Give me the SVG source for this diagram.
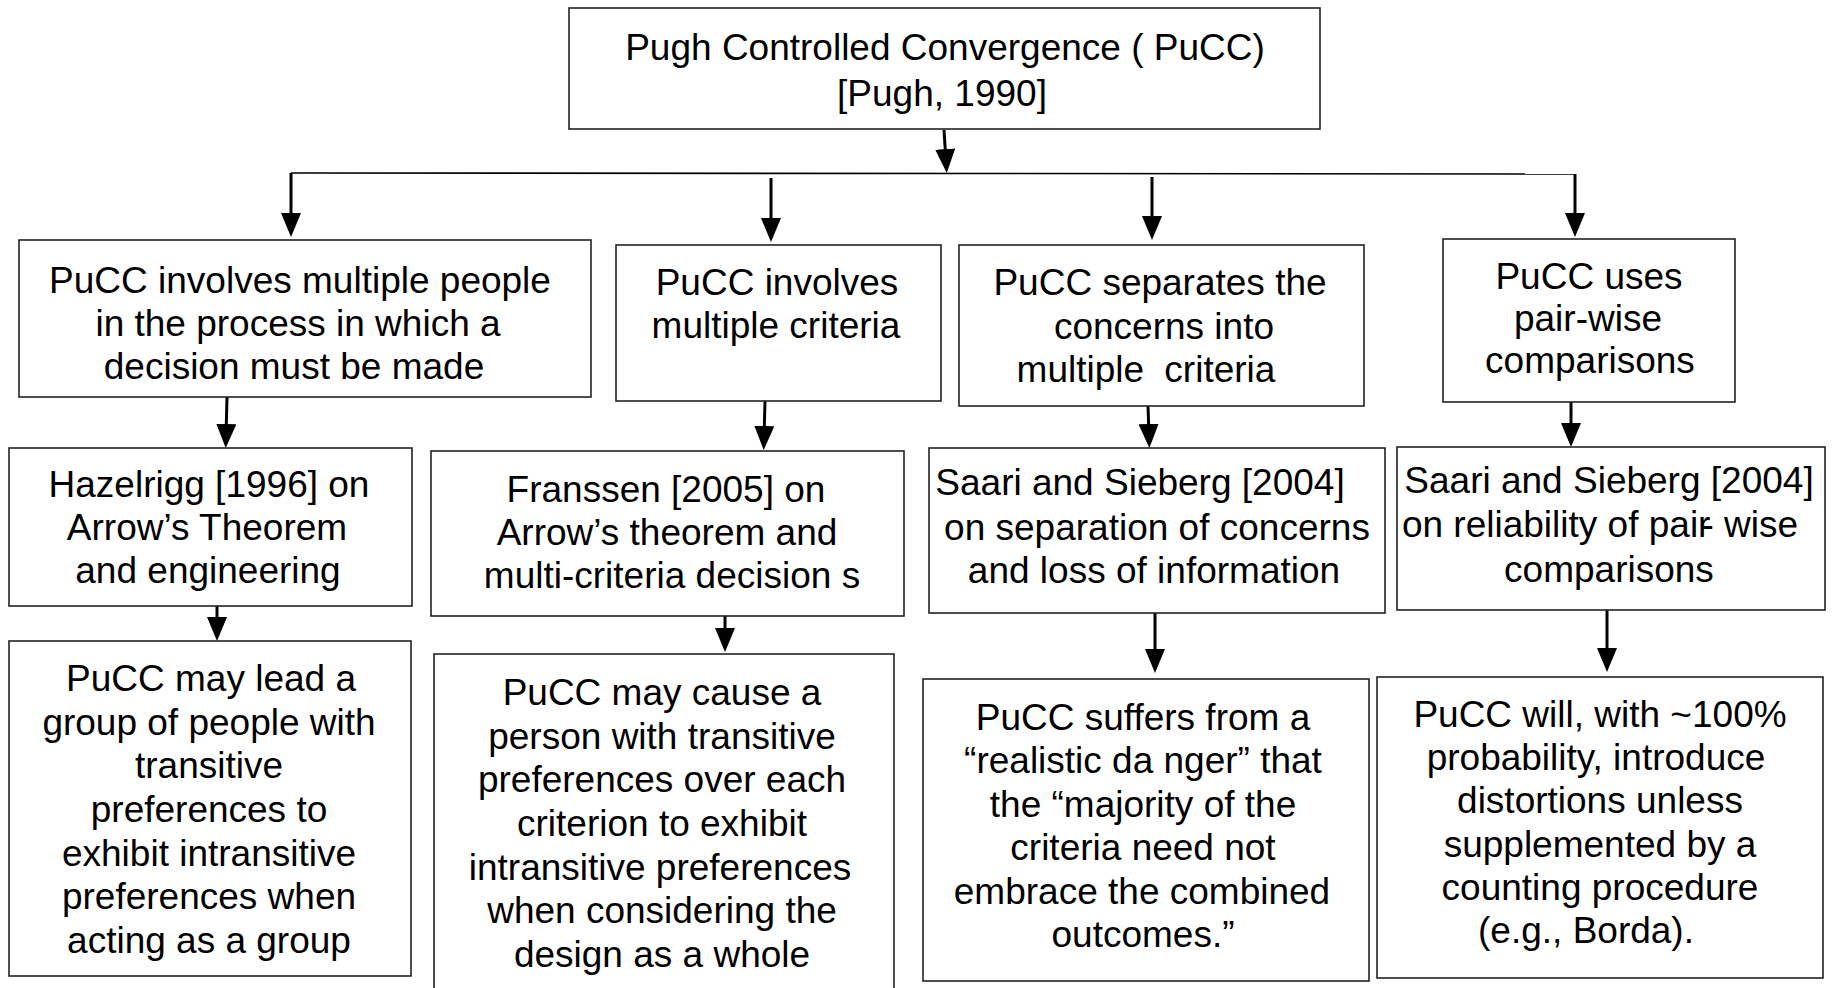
<svg xmlns="http://www.w3.org/2000/svg" width="1833" height="988" viewBox="0 0 1833 988">
<style>
.box{fill:#fff;stroke:#222;stroke-width:1.6}
text{font-family:"Liberation Sans",Arial,sans-serif;font-size:37px;fill:#000;text-anchor:middle}
.shaft{stroke:#000;stroke-width:3;fill:none}
.hline{stroke:#000;stroke-width:1.6;fill:none}
</style>
<defs>
<marker id="ah" markerUnits="userSpaceOnUse" viewBox="0 0 24 20" markerWidth="24" markerHeight="20" refX="12" refY="10" orient="auto">
<path d="M0,0 L24,10 L0,20 Z" fill="#000"/>
</marker>
</defs>
<rect width="1833" height="988" fill="#fff"/>

<g id="connectors">
<line class="shaft" x1="944" y1="130" x2="946" y2="161" marker-end="url(#ah)"/>
<line class="hline" x1="291" y1="173" x2="1575" y2="174"/>
<line class="shaft" x1="291" y1="173" x2="291" y2="225" marker-end="url(#ah)"/>
<line class="shaft" x1="771" y1="178" x2="771" y2="230" marker-end="url(#ah)"/>
<line class="shaft" x1="1152" y1="177" x2="1152" y2="228" marker-end="url(#ah)"/>
<line class="shaft" x1="1575" y1="174" x2="1575" y2="225" marker-end="url(#ah)"/>
<line class="shaft" x1="227" y1="397" x2="226" y2="436" marker-end="url(#ah)"/>
<line class="shaft" x1="765" y1="401" x2="764" y2="438" marker-end="url(#ah)"/>
<line class="shaft" x1="1148" y1="406" x2="1149" y2="436" marker-end="url(#ah)"/>
<line class="shaft" x1="1571" y1="402" x2="1571" y2="435" marker-end="url(#ah)"/>
<line class="shaft" x1="217" y1="606" x2="217" y2="629" marker-end="url(#ah)"/>
<line class="shaft" x1="725" y1="616" x2="725" y2="640" marker-end="url(#ah)"/>
<line class="shaft" x1="1155" y1="613" x2="1155" y2="661" marker-end="url(#ah)"/>
<line class="shaft" x1="1607" y1="610" x2="1607" y2="660" marker-end="url(#ah)"/>
</g>

<g id="n-top">
<rect class="box" x="569" y="8" width="751" height="121"/>
<text x="945" y="60">Pugh Controlled Convergence ( PuCC)</text>
<text x="942" y="106">[Pugh, 1990]</text>
</g>

<g id="n-people">
<rect class="box" x="19" y="240" width="572" height="157"/>
<text x="300" y="293">PuCC involves multiple people</text>
<text x="298" y="336">in the process in which a</text>
<text x="294" y="379">decision must be made</text>
</g>

<g id="n-criteria">
<rect class="box" x="616" y="245" width="325" height="156"/>
<text x="777" y="295">PuCC involves</text>
<text x="776" y="338">multiple criteria</text>
</g>

<g id="n-separates">
<rect class="box" x="959" y="245" width="405" height="161"/>
<text x="1160" y="295">PuCC separates the</text>
<text x="1164" y="339">concerns into</text>
<text x="1146" y="382" word-spacing="10">multiple criteria</text>
</g>

<g id="n-pairwise">
<rect class="box" x="1443" y="239" width="292" height="163"/>
<text x="1589" y="289">PuCC uses</text>
<text x="1588" y="331">pair-wise</text>
<text x="1590" y="373">comparisons</text>
</g>

<g id="n-hazelrigg">
<rect class="box" x="9" y="448" width="403" height="158"/>
<text x="209" y="497">Hazelrigg [1996] on</text>
<text x="207" y="540">Arrow’s Theorem</text>
<text x="208" y="583">and engineering</text>
</g>

<g id="n-franssen">
<rect class="box" x="431" y="451" width="473" height="165"/>
<text x="666" y="502">Franssen [2005] on</text>
<text x="667" y="545">Arrow’s theorem and</text>
<text x="672" y="588">multi-criteria decision s</text>
</g>

<g id="n-saari1">
<rect class="box" x="929" y="448" width="456" height="165"/>
<text x="1140" y="495">Saari and Sieberg [2004]</text>
<text x="1157" y="540">on separation of concerns</text>
<text x="1154" y="583">and loss of information</text>
</g>

<g id="n-saari2">
<rect class="box" x="1397" y="447" width="428" height="163"/>
<text x="1609" y="493">Saari and Sieberg [2004]</text>
<text x="1600" y="537">on reliability of pair<tspan dx="-9">-</tspan> wise</text>
<text x="1609" y="582">comparisons</text>
</g>

<g id="n-group">
<rect class="box" x="9" y="641" width="402" height="335"/>
<text x="211" y="691">PuCC may lead a</text>
<text x="209" y="735">group of people with</text>
<text x="209" y="778">transitive</text>
<text x="209" y="822">preferences to</text>
<text x="209" y="866">exhibit intransitive</text>
<text x="209" y="909">preferences when</text>
<text x="209" y="953">acting as a group</text>
</g>

<g id="n-person">
<rect class="box" x="434" y="654" width="460" height="340"/>
<text x="662" y="705">PuCC may cause a</text>
<text x="662" y="749">person with transitive</text>
<text x="662" y="792">preferences over each</text>
<text x="662" y="836">criterion to exhibit</text>
<text x="660" y="880">intransitive preferences</text>
<text x="662" y="923">when considering the</text>
<text x="662" y="967">design as a whole</text>
</g>

<g id="n-danger">
<rect class="box" x="923" y="679" width="446" height="302"/>
<text x="1143" y="730">PuCC suffers from a</text>
<text x="1143" y="773">“realistic da nger” that</text>
<text x="1143" y="817">the “majority of the</text>
<text x="1143" y="860">criteria need not</text>
<text x="1142" y="904">embrace the combined</text>
<text x="1143" y="947">outcomes.”</text>
</g>

<g id="n-borda">
<rect class="box" x="1377" y="677" width="446" height="301"/>
<text x="1600" y="727">PuCC will, with ~100%</text>
<text x="1596" y="770">probability, introduce</text>
<text x="1600" y="813">distortions unless</text>
<text x="1600" y="857">supplemented by a</text>
<text x="1600" y="900">counting procedure</text>
<text x="1586" y="943">(e.g., Borda).</text>
</g>
</svg>
